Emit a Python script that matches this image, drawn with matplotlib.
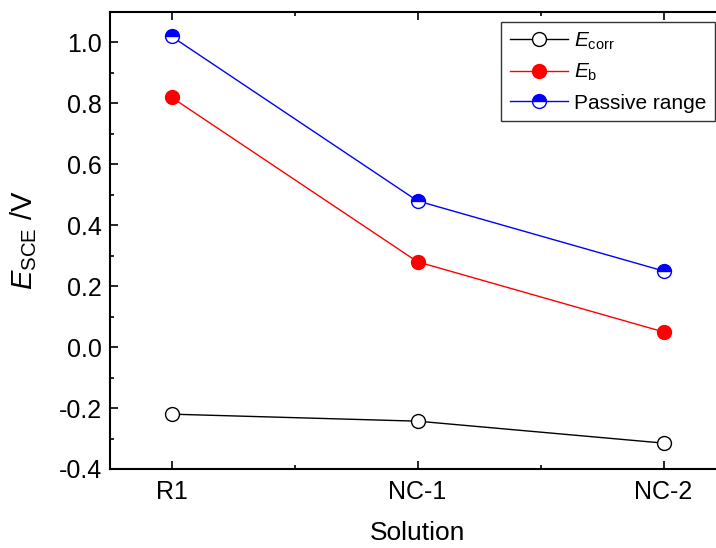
import matplotlib
matplotlib.use("Agg")
import matplotlib.pyplot as plt
from matplotlib.ticker import MultipleLocator

plt.rcParams['font.family'] = ['Liberation Sans', 'DejaVu Sans']
plt.rcParams['mathtext.fontset'] = 'custom'
plt.rcParams['mathtext.rm'] = 'Liberation Sans'
plt.rcParams['mathtext.it'] = 'Liberation Sans:italic'

solutions = ["R1", "NC-1", "NC-2"]
e_corr = [-0.22, -0.243, -0.315]
e_b = [0.82, 0.28, 0.05]
passive_range = [1.02, 0.48, 0.25]

fig = plt.figure(figsize=(7.16, 5.48), dpi=100)
# axes run past the right edge of the picture, as in the original crop
ax = fig.add_axes([110 / 716, 79 / 548, 615 / 716, 457 / 548])

x = list(range(len(solutions)))
ax.plot(x, e_corr, '-o', color='black', lw=1, ms=10,
        mfc='white', mec='black', label=r'$E_{\mathrm{corr}}$')
ax.plot(x, e_b, '-o', color='red', lw=1, ms=10,
        mfc='red', mec='red', label=r'$E_{\mathrm{b}}$')
ax.plot(x, passive_range, '-o', color='blue', lw=1, ms=10,
        mfc='blue', mec='blue', mfcalt='white', fillstyle='top',
        label='Passive range')

ax.set_xlim(-0.25, 2.25)
ax.set_ylim(-0.4, 1.1)
ax.set_xticks(x)
ax.set_xticklabels(solutions)
ax.xaxis.set_minor_locator(MultipleLocator(0.5))
ax.yaxis.set_minor_locator(MultipleLocator(0.1))
ax.set_yticks([-0.4, -0.2, 0.0, 0.2, 0.4, 0.6, 0.8, 1.0])
ax.set_yticklabels(['{:.1f}'.format(v) for v in ax.get_yticks()])
ax.tick_params(which='both', direction='in', top=True, right=True, labelsize=18)
ax.tick_params(which='major', length=6, width=1.2)
ax.tick_params(which='minor', length=3, width=1.2)
ax.tick_params(axis='y', pad=6)
ax.tick_params(axis='x', pad=8)
for s in ax.spines.values():
    s.set_linewidth(1.5)

ax.set_xlabel('Solution', fontsize=19, labelpad=12)
ax.set_ylabel(r'$E_{\mathrm{SCE}}$ /V', fontsize=21, labelpad=14)

leg = ax.legend(loc='upper right', fontsize=15, frameon=True, fancybox=False,
                edgecolor='black', handlelength=2.8, handletextpad=0.3,
                borderpad=0.4, labelspacing=0.5, borderaxespad=0,
                bbox_to_anchor=(715 / 716, 526 / 548),
                bbox_transform=fig.transFigure)
leg.get_frame().set_linewidth(1)

plt.savefig("out.png", dpi=100)
plt.close()
